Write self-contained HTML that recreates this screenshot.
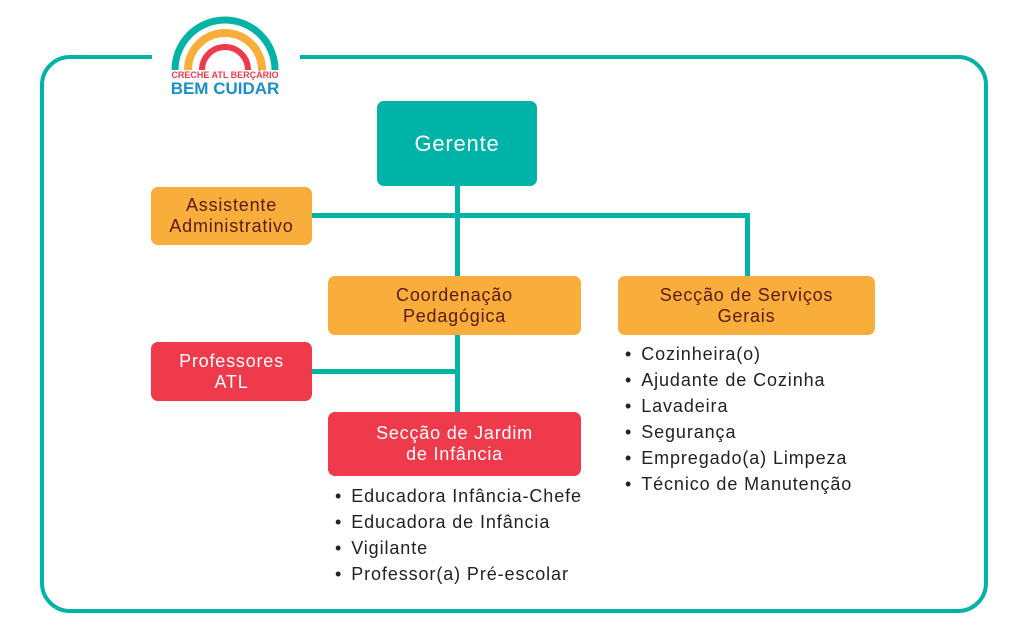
<!DOCTYPE html>
<html><head><meta charset="utf-8"><style>
body{margin:0;width:1024px;height:639px;background:#fff;position:relative;overflow:hidden;font-family:"Liberation Sans",sans-serif}
.b{position:absolute;border-radius:7px;display:flex;align-items:center;justify-content:center;text-align:center;font-size:18px;line-height:21px;letter-spacing:0.8px}
.o{background:#f9ae3b;color:#5a1a12}
.r{background:#ee3a4a;color:#fff}
.l{position:absolute;background:#00b3a7}
ul{position:absolute;margin:0;padding:0;list-style:none;font-size:18px;color:#222;line-height:26px;letter-spacing:0.9px}
ul li:before{content:"•";margin-right:9px}
</style></head><body>
<div style="position:absolute;left:40px;top:55px;width:940px;height:550px;border:4px solid #00b3a7;border-radius:30px"></div>
<div style="position:absolute;left:152px;top:45px;width:148px;height:20px;background:#fff"></div>
<svg style="position:absolute;left:165px;top:8px" width="120" height="70">
<path d="M10 62 A50 50 0 0 1 110 62" fill="none" stroke="#00b3a7" stroke-width="7"/>
<path d="M23 62 A37 37 0 0 1 97 62" fill="none" stroke="#f9ae3b" stroke-width="8"/>
<path d="M37 62 A23 23 0 0 1 83 62" fill="none" stroke="#ee3a4a" stroke-width="6"/>
</svg>
<div style="position:absolute;left:170px;top:70px;width:110px;text-align:center;font-size:9px;font-weight:bold;color:#ee3a4a">CRECHE ATL BERÇÁRIO</div>
<div style="position:absolute;left:170px;top:79px;width:110px;text-align:center;font-size:17px;font-weight:bold;color:#1a8fc8">BEM CUIDAR</div>
<div class="l" style="left:455px;top:186px;width:5px;height:228px"></div>
<div class="l" style="left:312px;top:213px;width:438px;height:5px"></div>
<div class="l" style="left:745px;top:213px;width:5px;height:64px"></div>
<div class="l" style="left:312px;top:369px;width:146px;height:5px"></div>
<div class="b" style="left:377px;top:101px;width:160px;height:85px;background:#00b3a7;color:#fff;font-size:22px">Gerente</div>
<div class="b o" style="left:151px;top:187px;width:161px;height:58px">Assistente<br>Administrativo</div>
<div class="b o" style="left:328px;top:276px;width:253px;height:59px">Coordenação<br>Pedagógica</div>
<div class="b o" style="left:618px;top:276px;width:257px;height:59px">Secção de Serviços<br>Gerais</div>
<div class="b r" style="left:151px;top:342px;width:161px;height:59px">Professores<br>ATL</div>
<div class="b r" style="left:328px;top:412px;width:253px;height:64px">Secção de Jardim<br>de Infância</div>
<ul style="left:335px;top:483px"><li>Educadora Infância-Chefe</li><li>Educadora de Infância</li><li>Vigilante</li><li>Professor(a) Pré-escolar</li></ul>
<ul style="left:625px;top:341px"><li>Cozinheira(o)</li><li>Ajudante de Cozinha</li><li>Lavadeira</li><li>Segurança</li><li>Empregado(a) Limpeza</li><li>Técnico de Manutenção</li></ul>
</body></html>
